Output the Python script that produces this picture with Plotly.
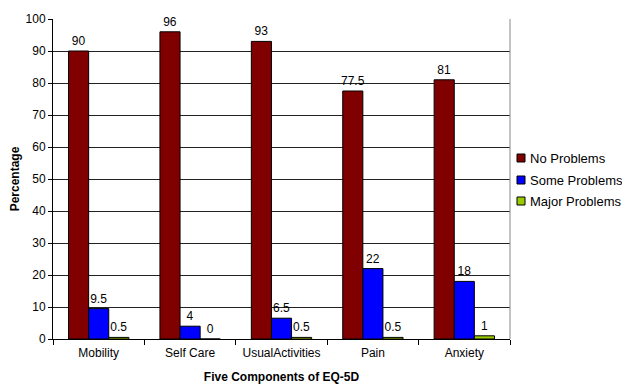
import plotly.graph_objects as go

categories = ["Mobility", "Self Care", "UsualActivities", "Pain", "Anxiety"]
no_problems = [90, 96, 93, 77.5, 81]
some_problems = [9.5, 4, 6.5, 22, 18]
major_problems = [0.5, 0, 0.5, 0.5, 1]
y_ticks = [0, 10, 20, 30, 40, 50, 60, 70, 80, 90, 100]

series = [
    ("No Problems", no_problems, "#800000"),
    ("Some Problems", some_problems, "#0000FF"),
    ("Major Problems", major_problems, "#99CC00"),
]

W, H = 622, 384
L, R, T, B = 53, 112, 19, 45
plot_w = W - L - R
plot_h = H - T - B

fig = go.Figure()
for name, vals, color in series:
    fig.add_trace(go.Bar(
        name=name, x=categories, y=vals,
        marker=dict(color=color, line=dict(color="#000000", width=1)),
        text=[f"{v:g}" for v in vals], textposition="outside",
        textfont=dict(size=12, color="#000000"),
        constraintext="none",
        cliponaxis=False,
    ))

fig.update_layout(
    width=W, height=H,
    margin=dict(l=L, r=R, t=T, b=B, autoexpand=False),
    barmode="group", bargap=0.34, bargroupgap=0,
    paper_bgcolor="white", plot_bgcolor="white",
    font=dict(family="Liberation Sans, Arial, sans-serif", size=12, color="#000000"),
    showlegend=False,
)
fig.update_xaxes(
    showline=True, linecolor="#000000", linewidth=1, mirror=False,
    ticks="outside", tickson="boundaries", ticklen=5, tickcolor="#000000",
    tickangle=0, ticklabelstandoff=3,
    title=dict(text="<b>Five Components of EQ-5D</b>", font=dict(size=12), standoff=14),
)
fig.update_yaxes(
    range=[0, 100], tickvals=y_ticks,
    showline=True, linecolor="#000000", linewidth=1,
    ticks="outside", ticklen=4, tickcolor="#000000",
    showgrid=True, gridcolor="#222222", gridwidth=1,
    title=dict(text="<b>Percentage</b>", font=dict(size=12), standoff=3),
)
# right edge of the plot frame
fig.add_shape(type="line", xref="paper", yref="paper", x0=1, x1=1, y0=0, y1=1,
              line=dict(color="#888888", width=1))

# legend drawn to the right of the plot: small boxed swatch + label per series
def px_x(px):
    return (px - L) / plot_w

def px_y(py):
    return (H - B - py) / plot_h

legend_rows = [158, 180, 201]
for (name, _, color), row in zip(series, legend_rows):
    fig.add_shape(type="rect", xref="paper", yref="paper",
                  x0=px_x(517), x1=px_x(525), y0=px_y(row + 4), y1=px_y(row - 4),
                  fillcolor=color, line=dict(color="#000000", width=1))
    fig.add_annotation(xref="paper", yref="paper", x=px_x(528), y=px_y(row),
                       xanchor="left", yanchor="middle", showarrow=False,
                       text=name, font=dict(size=13, color="#000000"))

fig.write_html("out.html")
